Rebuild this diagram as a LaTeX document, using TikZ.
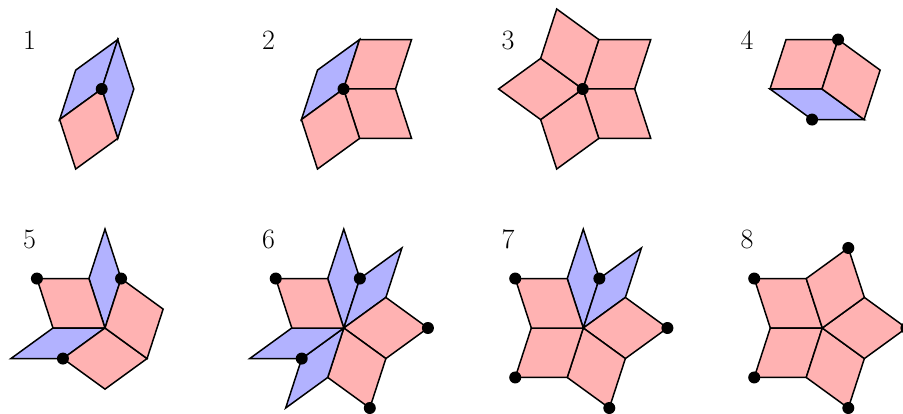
\documentclass[tikz,border=0pt]{standalone}
\newcommand{\rb}[3]{\draw[tile,fill=#1] (0,0) -- ++(#2:52pt) -- ++(#3:52pt) -- ++({#2+180}:52pt) -- cycle;}
\newcommand{\dotat}[2]{\fill (#1:52pt) ++(#2:52pt) circle[radius=6pt];}
\newcommand{\dotone}[1]{\fill (#1:52pt) circle[radius=6pt];}
\tikzset{
  tile/.style={draw=black,line width=1.5pt,miter limit=10},
  numlabel/.style={font=\fontsize{28}{32}\selectfont,inner sep=0pt,anchor=center}
}
\colorlet{pk}{red!30}
\colorlet{bl}{blue!30}
\begin{document}
\begin{tikzpicture}[x=1pt,y=1pt]
\useasboundingbox (0,0) rectangle (903,413);
% row 1 (y = 413 - 89 = 324)
\node[numlabel] (n1) at (29.5,373) {1};
\node[numlabel] (n2) at (268.5,373) {2};
\node[numlabel] (n3) at (508,373) {3};
\node[numlabel] (n4) at (747,373) {4};
\node[numlabel] (n5) at (29.5,173.5) {5};
\node[numlabel] (n6) at (268.5,173.5) {6};
\node[numlabel] (n7) at (508,173.5) {7};
\node[numlabel] (n8) at (747,173.5) {8};
\begin{scope}[shift={(101.7,324)}]
  \rb{bl}{72}{216}\rb{bl}{72}{288}\rb{pk}{216}{288}
  \fill (0,0) circle[radius=6pt];
\end{scope}
\begin{scope}[shift={(343.5,324)}]
  \rb{bl}{72}{216}\rb{pk}{72}{0}\rb{pk}{0}{288}\rb{pk}{288}{216}
  \fill (0,0) circle[radius=6pt];
\end{scope}
\begin{scope}[shift={(582.7,324)}]
  \rb{pk}{72}{0}\rb{pk}{0}{288}\rb{pk}{288}{216}\rb{pk}{216}{144}\rb{pk}{144}{72}
  \fill (0,0) circle[radius=6pt];
\end{scope}
\begin{scope}[shift={(822,324)}]
  \rb{bl}{180}{324}\rb{pk}{72}{180}\rb{pk}{72}{324}
  \dotone{72}\dotat{180}{324}
\end{scope}
% row 2 (y = 413 - 328 = 85)
\begin{scope}[shift={(105,85)}]
  \rb{bl}{72}{108}\rb{pk}{108}{180}\rb{bl}{180}{216}\rb{pk}{216}{324}\rb{pk}{324}{72}
  \dotat{108}{180}\dotone{72}\dotone{216}
\end{scope}
\begin{scope}[shift={(343.8,85)}]
  \rb{bl}{72}{108}\rb{bl}{36}{72}\rb{pk}{324}{36}\rb{pk}{324}{252}\rb{bl}{252}{216}\rb{bl}{216}{180}\rb{pk}{180}{108}
  \dotat{108}{180}\dotone{72}\dotat{324}{36}\dotat{324}{252}\dotone{216}
\end{scope}
\begin{scope}[shift={(583.3,85)}]
  \rb{bl}{72}{108}\rb{bl}{36}{72}\rb{pk}{324}{36}\rb{pk}{324}{252}\rb{pk}{252}{180}\rb{pk}{180}{108}
  \dotat{108}{180}\dotone{72}\dotat{324}{36}\dotat{324}{252}\dotat{252}{180}
\end{scope}
\begin{scope}[shift={(822.3,85)}]
  \rb{pk}{108}{180}\rb{pk}{180}{252}\rb{pk}{252}{324}\rb{pk}{324}{36}\rb{pk}{36}{108}
  \dotat{108}{180}\dotat{180}{252}\dotat{252}{324}\dotat{324}{36}\dotat{36}{108}
\end{scope}
\end{tikzpicture}
\end{document}
